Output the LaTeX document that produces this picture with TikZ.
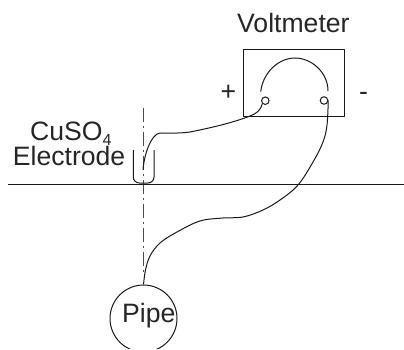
\documentclass[tikz,border=0pt]{standalone}
\usepackage{fontspec}
\setmainfont{Liberation Sans}
\tikzset{
  every picture/.style={x=1pt,y=-1pt},
  lbl/.style={inner sep=0pt,anchor=base west,font=\fontsize{26.6}{26.6}\selectfont,text=black!85},
  ln/.style={draw=black!90,line width=1pt,line join=round},
  term/.style={circle,draw=black!90,line width=1pt,minimum size=7.5pt,inner sep=0pt},
  pipe/.style={circle,draw=black!90,line width=1pt,minimum size=67pt,inner sep=0pt},
}
\begin{document}
\begin{tikzpicture}
\useasboundingbox (0,0) rectangle (404,350);
\clip (0,0) rectangle (404,348);
\draw[ln,draw=black!70,dash pattern=on 14pt off 4pt on 2pt off 4pt] (143,108) -- (143,273);
\draw[ln] (8,184.5) -- (404,184.5);
\node[ln,draw,minimum width=101pt,minimum height=67pt,inner sep=0pt] (box) at (294.3,83.2) {};
\node[term] (tl) at (265.3,100.7) {};
\node[term] (tr) at (324,100.5) {};
\node[pipe] (pipe) at (143.5,318.5) {};
\node[lbl] at (122,322) {Pipe};
\node[lbl] at (237,33) {Voltmeter};
\node[lbl] at (30,140) {CuSO\raisebox{-0.22em}{\fontsize{16}{16}\selectfont 4}};
\node[lbl] at (12.7,165) {Electrode};
\node[lbl] at (220.5,101) {+};
\node[lbl] at (359,101) {-};
\coordinate (al) at (260.7,91.7);
\coordinate (ar) at (328,91);
\draw[ln] (al) .. controls (263,72) and (279,58) .. (295,58) .. controls (311,58) and (328,72) .. (ar);
\coordinate (cupin) at (143,170);
\draw[ln] (tl.south west) .. controls (261,110) and (256,114) .. (250,116) .. controls (235,122) and (215,127) .. (190,132) .. controls (180,133.5) and (170,133) .. (160,133) .. controls (151,134) and (144,155) .. (cupin);
\draw[ln,rounded corners=6pt] (133.3,150) -- (133.3,183) -- (154,183) -- (154,150);
\draw[ln] plot[smooth,tension=0.6] coordinates {(tr.east) (327,125) (323,142) (313,162) (298,185) (280,200) (263,210) (243,217) (223,218) (200,221) (177,232) (160,243) (150,256) (145.5,270) (pipe.north)};
\end{tikzpicture}
\end{document}
